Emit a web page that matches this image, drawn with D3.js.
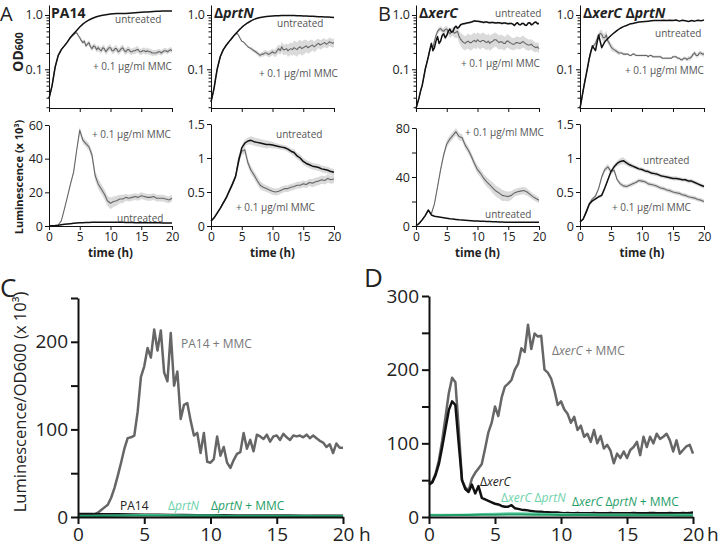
<!DOCTYPE html>
<html><head><meta charset="utf-8">
<script src="https://cdn.jsdelivr.net/npm/d3@7"></script>
<style>body{margin:0;background:#fff} svg{display:block} text{font-family:"Open Sans",sans-serif}</style>
</head><body><script>
// ---------- DATA (each array spans 0..20 h evenly) ----------
const xTicks = [0,5,10,15,20];
const odTickLabels = ["0.1","1.0"];
// A: PA14 and ΔprtN, OD600
const odPA14Untr = [0.029,0.05,0.11,0.18,0.23,0.27,0.32,0.39,0.45,0.52,0.6,0.68,0.75,0.81,0.86,0.91,0.95,0.98,1.0,1.02,1.04,1.05,1.06,1.06,1.07,1.07,1.08,1.09,1.1,1.11,1.12,1.13,1.14,1.15,1.16,1.17,1.17,1.18,1.18,1.18,1.18];
const odPA14MMC = [
 0.029,0.038,0.05,0.075, 0.11,0.14,0.18,0.2, 0.23,0.25,0.27,0.29, 0.32,0.35,0.38,0.41, 0.43,0.46,0.47,0.42,
 0.38,0.34,0.31,0.33, 0.27,0.29,0.31,0.26, 0.24,0.27,0.26,0.23, 0.25,0.23,0.22,0.25, 0.24,0.21,0.23,0.25,
 0.25,0.22,0.22,0.24, 0.24,0.21,0.22,0.24, 0.25,0.22,0.21,0.23, 0.23,0.21,0.21,0.22, 0.22,0.23,0.23,0.21,
 0.21,0.22,0.22,0.21, 0.22,0.21,0.21,0.2, 0.2,0.2,0.2,0.21, 0.21,0.2,0.21,0.22, 0.22,0.21,0.22,0.23, 0.22];
const odPA14MMCsd = [0,0,0,0,0,0,0.03,0.05,0.08,0.1,0.12,0.12,0.14,0.14,0.15,0.15,0.15,0.15,0.15,0.15,0.15,0.15,0.14,0.14,0.14,0.14,0.13,0.13,0.12,0.12,0.12];
const odPrtNUntr = [0.025,0.045,0.1,0.17,0.23,0.28,0.33,0.39,0.45,0.52,0.59,0.66,0.72,0.78,0.83,0.87,0.9,0.92,0.94,0.95,0.96,0.97,0.97,0.98,0.98,0.98,0.98,0.98,0.97,0.97,0.96,0.96,0.95,0.95,0.94,0.93,0.93,0.92,0.92,0.91,0.9];
const odPrtNMMC = [
 0.025,0.033,0.045,0.07, 0.1,0.13,0.17,0.2, 0.23,0.25,0.28,0.3, 0.33,0.35,0.38,0.42, 0.44,0.46,0.42,0.37,
 0.33,0.32,0.3,0.28, 0.26,0.25,0.24,0.23, 0.22,0.21,0.2,0.19, 0.18,0.19,0.19,0.2, 0.2,0.19,0.19,0.2,
 0.21,0.2,0.2,0.22, 0.24,0.22,0.26,0.23, 0.23,0.24,0.22,0.23, 0.24,0.23,0.25,0.24, 0.23,0.25,0.26,0.24,
 0.25,0.26,0.27,0.25, 0.26,0.27,0.28,0.26, 0.27,0.29,0.3,0.28, 0.29,0.3,0.31,0.29, 0.3,0.32,0.31,0.3, 0.31];
const odPrtNMMCsd = [0,0,0,0,0,0,0.04,0.08,0.1,0.12,0.15,0.2,0.25,0.3,0.35,0.35,0.3,0.25,0.22,0.2,0.2];
// A: luminescence (x10^3)
const lumPA14MMC = [0.2,0.2,0.3,0.6,3,10,17.5,25,32,45,57,51,49,47,42,30,25,22,19,15,13.5,14.5,15,16,16,17,16.5,17,17.5,17,18,17.5,17,17,17.5,16.5,16.5,16.5,16,15.5,16.5];
const lumPA14MMCsd = [0,0,0,0,0.3,0.5,0.8,1,1.2,1.5,2,2,2,2,2.5,3,3,3,3,3,3.5,3,3,2.5,2.5,2,2,2,2,2,2,2,2,2,2,2,2,2,2,2,2];
const lumPA14Untr = [0.2,0.2,0.3,0.5,0.8,1.0,1.2,1.4,1.6,1.8,1.9,2.0,2.1,2.15,2.2,2.2,2.2,2.2,2.2,2.2,2.2,2.2,2.2,2.2,2.2,2.1,2.1,2.1,2.0,2.0,2.0,2.0,1.9,1.9,1.9,1.9,1.9,1.8,1.8,1.8,1.8];
const lumPrtNUntr = [0.07,0.12,0.19,0.26,0.34,0.42,0.52,0.62,0.73,0.95,1.15,1.22,1.25,1.26,1.24,1.23,1.22,1.21,1.2,1.2,1.19,1.18,1.17,1.16,1.15,1.13,1.1,1.08,1.03,1.0,0.95,0.92,0.9,0.88,0.87,0.86,0.84,0.83,0.82,0.8,0.79];
const lumPrtNUntrSd = [0,0.01,0.02,0.03,0.03,0.04,0.05,0.06,0.06,0.06,0.05,0.04,0.04,0.04,0.05,0.05,0.05,0.05,0.05,0.05,0.05];
const lumPrtNMMC = [0.07,0.12,0.19,0.26,0.34,0.42,0.52,0.62,0.73,1.0,1.1,1.12,0.93,0.82,0.75,0.67,0.6,0.57,0.55,0.53,0.51,0.5,0.51,0.53,0.55,0.55,0.57,0.58,0.6,0.6,0.62,0.61,0.64,0.63,0.65,0.66,0.68,0.67,0.7,0.68,0.69];
const lumPrtNMMCsd = [0,0.01,0.02,0.03,0.04,0.06,0.06,0.06,0.06,0.05,0.05,0.05,0.05,0.05,0.05,0.05,0.05,0.06,0.06,0.06,0.06];
// B: ΔxerC and ΔxerC ΔprtN, OD600
const odXerCUntr = [
 0.019,0.024,0.03,0.04, 0.05,0.07,0.1,0.13, 0.17,0.23,0.3,0.22, 0.25,0.33,0.4,0.3, 0.33,0.42,0.45,0.38,
 0.42,0.5,0.55,0.48, 0.5,0.58,0.62,0.57, 0.6,0.66,0.68,0.69, 0.7,0.71,0.72,0.73, 0.74,0.76,0.78,0.77,
 0.77,0.76,0.75,0.74, 0.73,0.74,0.74,0.73, 0.72,0.73,0.73,0.72, 0.71,0.72,0.72,0.71, 0.7,0.71,0.71,0.7,
 0.69,0.7,0.7,0.68, 0.64,0.69,0.72,0.67, 0.66,0.7,0.7,0.65, 0.65,0.71,0.72,0.66, 0.68,0.73,0.74,0.69, 0.7];
const odXerCUntrSd = [0,0,0.02,0.05,0.1,0.1,0.08,0.06,0.05,0.05,0.05,0.05,0.05,0.05,0.05,0.05,0.05,0.05,0.05,0.05,0.05];
const odXerCMMC = [
 0.019,0.024,0.03,0.04, 0.05,0.07,0.1,0.13, 0.17,0.22,0.28,0.25, 0.33,0.42,0.5,0.54, 0.56,0.52,0.5,0.54,
 0.55,0.5,0.45,0.48, 0.5,0.46,0.48,0.5, 0.4,0.36,0.33,0.31, 0.3,0.32,0.33,0.31, 0.31,0.33,0.34,0.32,
 0.35,0.33,0.32,0.34, 0.34,0.32,0.31,0.33, 0.3,0.32,0.33,0.35, 0.35,0.33,0.31,0.32, 0.32,0.3,0.3,0.33,
 0.33,0.31,0.3,0.29, 0.29,0.31,0.31,0.3, 0.3,0.32,0.32,0.3, 0.29,0.28,0.28,0.29, 0.27,0.26,0.25,0.26, 0.24];
const odXerCMMCsd = [0,0,0.02,0.08,0.12,0.15,0.2,0.3,0.35,0.38,0.38,0.38,0.38,0.35,0.35,0.32,0.3,0.3,0.28,0.25,0.22];
const odXPUntr = [0.019,0.04,0.08,0.16,0.27,0.22,0.43,0.25,0.32,0.37,0.42,0.47,0.52,0.57,0.61,0.64,0.68,0.7,0.72,0.74,0.75,0.76,0.77,0.78,0.79,0.79,0.79,0.8,0.79,0.8,0.79,0.81,0.77,0.8,0.78,0.76,0.79,0.77,0.8,0.78,0.81];
const odXPMMC = [
 0.019,0.027,0.04,0.06, 0.08,0.11,0.16,0.22, 0.25,0.28,0.3,0.36, 0.4,0.46,0.44,0.38, 0.38,0.43,0.33,0.3,
 0.26,0.24,0.23,0.22, 0.21,0.2,0.2,0.2, 0.19,0.19,0.19,0.19, 0.18,0.18,0.19,0.19, 0.18,0.18,0.18,0.18,
 0.18,0.18,0.18,0.18, 0.17,0.18,0.18,0.17, 0.17,0.17,0.17,0.17, 0.17,0.16,0.16,0.16, 0.16,0.16,0.16,0.16,
 0.17,0.17,0.17,0.16, 0.16,0.15,0.15,0.16, 0.16,0.15,0.16,0.16, 0.17,0.19,0.2,0.18, 0.18,0.2,0.2,0.19, 0.19];
const odXPMMCsd = [0,0,0.05,0.15,0.2,0.15,0.1,0.06,0.05,0.05,0.05,0.05,0.05,0.05,0.05,0.05,0.06,0.08,0.1,0.1,0.1];
// B: luminescence (x10^3)
const lumXerCMMC = [0.3,2,5,8.5,13,10,18,32,46,58,67,71,74,77,73,72,66,62,57,51,46,43,39,36,33.5,31,28.5,27,25,24.5,24,25,27,28,28.5,29,28,26,24,22.5,21];
const lumXerCMMCsd = [0,0,0,0,0.5,0.5,1,1.5,2,2.5,3,3,3,3,3,3,3,3,3,3,3.5,3.5,3.5,4,4,4.5,4.5,4.5,4.5,4,4,3.5,3,3,3,3,3,2.5,2.5,2.5,2.5];
const lumXerCUntr = [0.3,2,5,8.5,13,9,8,7.6,7.2,6.8,6.4,6,5.7,5.4,5.1,4.9,4.7,4.5,4.3,4.1,4,3.9,3.8,3.7,3.6,3.5,3.4,3.3,3.2,3.1,3.1,3,3,3,3,3,3,3,3,3,3];
const lumXPUntr = [0.06,0.1,0.2,0.32,0.37,0.4,0.43,0.45,0.56,0.68,0.8,0.87,0.92,0.95,0.96,0.93,0.9,0.88,0.86,0.84,0.83,0.81,0.8,0.78,0.77,0.76,0.74,0.73,0.72,0.71,0.7,0.7,0.69,0.68,0.68,0.66,0.66,0.64,0.62,0.6,0.58];
const lumXPUntrSd = [0,0.01,0.02,0.02,0.03,0.03,0.04,0.05,0.04,0.03,0.03,0.03,0.03,0.03,0.03,0.03,0.03,0.03,0.03,0.03,0.03];
const lumXPMMC = [0.06,0.1,0.22,0.33,0.4,0.44,0.55,0.72,0.83,0.87,0.8,0.82,0.68,0.62,0.59,0.58,0.6,0.62,0.64,0.67,0.66,0.65,0.62,0.61,0.6,0.58,0.56,0.55,0.53,0.52,0.5,0.49,0.48,0.46,0.45,0.43,0.42,0.41,0.39,0.38,0.36];
const lumXPMMCsd = [0,0.01,0.02,0.03,0.04,0.04,0.03,0.03,0.03,0.03,0.03,0.03,0.03,0.03,0.03,0.03,0.03,0.03,0.03,0.03,0.03];
// C: luminescence / OD600 (x10^3)
const ratioPA14MMC = [
 2,2,1,1, 2,3,5,8, 11,14,22,33, 47,62,78,90, 91,93,120,160,
 172,193,182,214, 190,213,165,155, 210,150,166,112, 128,130,110,93, 96,73,96,63,
 62,66,92,70, 80,62,56,65, 72,74,96,78, 88,75,94,92, 89,94,86,92,
 93,88,95,91, 88,93,92,93, 91,94,90,93, 90,87,85,80, 83,73,84,79, 79];
const ratioPA14 = [3.5,3.3,3,3,2.8,2.6,2.5,2.3,2.2,2,2,1.9,1.8,1.8,1.7,1.6,1.6,1.5,1.5,1.4,1.4];
const ratioPrtN = [1.5,1.5,1.6,1.8,2,2.2,2.2,2,1.8,1.8,1.6,1.5,1.5,1.4,1.4,1.3,1.3,1.3,1.2,1.2,1.2];
const ratioPrtNMMC = [1,1,1.2,1.4,1.6,1.8,1.8,1.6,1.5,1.4,1.3,1.2,1.2,1.1,1.1,1,1,1,1,1,1];
// D
const ratioXerCMMC = [
 46,48,59,77, 104,136,168,189, 183,120,50,40, 36,52,60,66, 72,93,115,128,
 150,137,162,177, 181,186,200,208, 229,224,261,228, 249,245,246,200, 196,188,172,152,
 157,146,140,128, 136,118,124,109, 113,102,118,100, 110,93,98,90, 73,86,80,89,
 80,91,95,102, 84,109,95,109, 100,113,106,109, 113,104,89,104, 86,91,96,98, 86];
const ratioXerC = [
 44,47,57,72, 95,120,145,157, 152,100,50,38, 34,44,32,42, 26,24,22,20,
 18,17,15,14, 14,16,12,11, 10,9.5,9,8, 7.5,7,7,6.5, 6.5,6,6,6,
 5.5,5,5.5,5, 5,5.5,5,5, 5,5,5.5,5, 5,5,5,5.5, 5,5,5,5,
 5,5,5.5,5, 5,5,5,5.5, 5.5,5,5,5, 5,5.5,5,5, 5,5.5,5,5.5, 6];
const ratioXP = [3,3,3.2,3.5,4,4.5,5,5,4.6,4.2,4,3.8,3.6,3.5,3.4,3.3,3.2,3.1,3,3,3];
const ratioXPMMC = [2.5,2.5,2.6,2.8,3,3.2,3.4,3.3,3.2,3,2.8,2.7,2.6,2.5,2.5,2.4,2.4,2.3,2.3,2.2,2.2];

// ---------- DRAWING ----------
const FONT = '"Open Sans", sans-serif';
const GRAY = '#666', BLACK = '#111', BAND = '#dadada';
const LGREEN = '#6dd2ab', DGREEN = '#1f9e68';
const svg = d3.select('body').append('svg').attr('width',720).attr('height',547);

const tOf = (i,n) => i*20/(n-1);
function lineOf(x,y,arr){ return d3.line().x((d,i)=>x(tOf(i,arr.length))).y(d=>y(d))(arr); }
function bandOf(x,y,arr,sd,rel){
  const n = arr.length, s = i => sd[Math.round(i*(sd.length-1)/(n-1))];
  return d3.area().x((d,i)=>x(tOf(i,n)))
    .y0((d,i)=>y(rel ? d/(1+s(i)) : Math.max(0,d-s(i))))
    .y1((d,i)=>y(rel ? d*(1+s(i)) : d+s(i)))(arr);
}
function styleAxis(g, fs, sw){
  g.attr('font-family',FONT).attr('font-size',fs);
  g.selectAll('path.domain').attr('stroke',BLACK).attr('stroke-width',sw);
  g.selectAll('.tick line').attr('stroke',BLACK).attr('stroke-width',sw);
  g.selectAll('.tick text').attr('fill','#222');
}
function richText(parent, x, y, parts, opts){
  const t = parent.append('text').attr('x',x).attr('y',y)
    .attr('font-size',opts.size).attr('fill',opts.fill||'#222')
    .attr('font-weight',opts.bold?'bold':'normal')
    .attr('text-anchor',opts.anchor||'start');
  if (opts.rotate) t.attr('transform',`rotate(-90,${x},${y})`);
  parts.forEach(p=>{
    const s = t.append('tspan').text(p.t);
    if (p.i) s.attr('font-style','italic');
    if (p.size) s.attr('font-size',p.size);
  });
  return t;
}

function smallPanel(cfg){
  const g = svg.append('g');
  const x = d3.scaleLinear().domain([0,20]).range([cfg.x0,cfg.x1]);
  const y = cfg.y;
  cfg.series.forEach(s=>{
    if (s.sd) g.append('path').attr('d',bandOf(x,y,s.data,s.sd,cfg.log)).attr('fill',BAND);
  });
  cfg.series.forEach(s=>{
    g.append('path').attr('d',lineOf(x,y,s.data)).attr('fill','none')
      .attr('stroke',s.color).attr('stroke-width',s.w).attr('stroke-linejoin','round');
  });
  const xa = g.append('g').attr('transform',`translate(0,${cfg.base})`)
    .call(d3.axisBottom(x).tickValues(xTicks).tickSize(4).tickSizeOuter(0).tickPadding(2)
      .tickFormat(cfg.xlabels ? d3.format('d') : ''));
  styleAxis(xa,12,1);
  const ya = g.append('g').attr('transform',`translate(${cfg.x0},0)`)
    .call(d3.axisLeft(y).tickValues(cfg.yTicks).tickSize(4).tickSizeOuter(0).tickPadding(2)
      .tickFormat(cfg.yFmt));
  styleAxis(ya,12.5,1);
  if (cfg.minor){
    const ma = g.append('g').attr('transform',`translate(${cfg.x0},0)`)
      .call(d3.axisLeft(y).tickValues(cfg.minor).tickSize(2.5).tickSizeOuter(0).tickFormat(''));
    styleAxis(ma,10,1);
    ma.select('path.domain').remove();
  }
  if (cfg.xlabels){
    g.append('text').attr('x',(cfg.x0+cfg.x1)/2).attr('y',257).attr('text-anchor','middle')
      .attr('font-size',11.5).attr('font-weight','bold').attr('fill','#222').text('time (h)');
  }
  (cfg.labels||[]).forEach(l=>{
    g.append('text').attr('x',l.x).attr('y',l.y).attr('font-size',10).attr('fill','#555').text(l.t);
  });
  return g;
}

const logY = () => d3.scaleLog().domain([Math.pow(10,-1.713), Math.pow(10,0.184)]).range([108,5]);
const logMinor = [0.02,0.03,0.04,0.05,0.06,0.07,0.08,0.09,0.2,0.3,0.4,0.5,0.6,0.7,0.8,0.9];
const odFmt = d => d===1 ? odTickLabels[1] : odTickLabels[0];
const MMC = '+ 0.1 \u03bcg/ml MMC';

const cols = [
  {x0:49, x1:172},{x0:211, x1:334},{x0:416, x1:539},{x0:580, x1:704}
];
// top OD panels
smallPanel({...cols[0], y:logY(), log:true, base:108, yTicks:[0.1,1], yFmt:odFmt, minor:logMinor,
  series:[{data:odPA14MMC, sd:odPA14MMCsd, color:GRAY, w:1.1},{data:odPA14Untr, color:BLACK, w:1.5}],
  labels:[{t:'untreated',x:115,y:23},{t:MMC,x:93,y:70}]});
smallPanel({...cols[1], y:logY(), log:true, base:108, yTicks:[0.1,1], yFmt:odFmt, minor:logMinor,
  series:[{data:odPrtNMMC, sd:odPrtNMMCsd, color:GRAY, w:1.1},{data:odPrtNUntr, color:BLACK, w:1.5}],
  labels:[{t:'untreated',x:277,y:27},{t:MMC,x:259,y:77}]});
smallPanel({...cols[2], y:logY(), log:true, base:108, yTicks:[0.1,1], yFmt:odFmt, minor:logMinor,
  series:[{data:odXerCMMC, sd:odXerCMMCsd, color:GRAY, w:1.1},{data:odXerCUntr, sd:odXerCUntrSd, color:BLACK, w:1.5}],
  labels:[{t:'untreated',x:495,y:17},{t:MMC,x:461,y:67}]});
smallPanel({...cols[3], y:logY(), log:true, base:108, yTicks:[0.1,1], yFmt:odFmt, minor:logMinor,
  series:[{data:odXPMMC, sd:odXPMMCsd, color:GRAY, w:1.1},{data:odXPUntr, color:BLACK, w:1.5}],
  labels:[{t:'untreated',x:655,y:37},{t:MMC,x:625,y:74}]});
// bottom luminescence panels
smallPanel({...cols[0], y:d3.scaleLinear().domain([0,60]).range([226,125]), base:226, xlabels:true,
  yTicks:[0,20,40,60], yFmt:d3.format('d'),
  series:[{data:lumPA14MMC, sd:lumPA14MMCsd, color:GRAY, w:1.1},{data:lumPA14Untr, color:BLACK, w:1.5}],
  labels:[{t:MMC,x:92,y:138},{t:'untreated',x:117,y:222}]});
smallPanel({...cols[1], y:d3.scaleLinear().domain([0,1.5]).range([226,124]), base:226, xlabels:true,
  yTicks:[0,0.5,1,1.5], yFmt:d=>String(d),
  series:[{data:lumPrtNMMC, sd:lumPrtNMMCsd, color:GRAY, w:1.1},{data:lumPrtNUntr, sd:lumPrtNUntrSd, color:BLACK, w:1.5}],
  labels:[{t:'untreated',x:276,y:138},{t:MMC,x:236,y:211}]});
smallPanel({...cols[2], y:d3.scaleLinear().domain([0,80]).range([226,128]), base:226, xlabels:true,
  yTicks:[0,20,40,60,80], yFmt:d=> (d%40===0 ? String(d) : ''),
  series:[{data:lumXerCMMC, sd:lumXerCMMCsd, color:GRAY, w:1.1},{data:lumXerCUntr, color:BLACK, w:1.5}],
  labels:[{t:MMC,x:465,y:136},{t:'untreated',x:485,y:218}]});
smallPanel({...cols[3], y:d3.scaleLinear().domain([0,1.5]).range([226,124]), base:226, xlabels:true,
  yTicks:[0,0.5,1,1.5], yFmt:d=>String(d),
  series:[{data:lumXPMMC, sd:lumXPMMCsd, color:GRAY, w:1.1},{data:lumXPUntr, sd:lumXPUntrSd, color:BLACK, w:1.5}],
  labels:[{t:'untreated',x:643,y:164},{t:MMC,x:612,y:211}]});

// panel titles
richText(svg,51,18,[{t:'PA14'}],{size:14,bold:true});
richText(svg,214,18,[{t:'\u0394'},{t:'prtN',i:true}],{size:14,bold:true});
richText(svg,419,18,[{t:'\u0394'},{t:'xerC',i:true}],{size:14,bold:true});
richText(svg,583,18,[{t:'\u0394'},{t:'xerC',i:true},{t:' \u0394'},{t:'prtN',i:true}],{size:14,bold:true});
// y labels small panels
richText(svg,23,52,[{t:'OD'},{t:'600',size:10.5}],{size:14,bold:true,anchor:'middle',rotate:true});
richText(svg,23,177,[{t:'Luminescence (x 10\u00b3)'}],{size:11,bold:true,anchor:'middle',rotate:true});
// panel letters
svg.append('text').attr('x',0).attr('y',21).attr('font-size',20).attr('font-family','"Liberation Sans", sans-serif').attr('fill','#222').text('A');
svg.append('text').attr('x',378).attr('y',21).attr('font-size',20).attr('font-family','"Liberation Sans", sans-serif').attr('fill','#222').text('B');
svg.append('text').attr('x',0).attr('y',297).attr('font-size',26).attr('fill','#222').text('C');
svg.append('text').attr('x',364).attr('y',287).attr('font-size',26).attr('fill','#222').text('D');

// big panels
function bigPanel(cfg){
  const g = svg.append('g');
  const x = d3.scaleLinear().domain([0,20]).range([cfg.x0,cfg.x1]);
  const y = d3.scaleLinear().domain([0,cfg.ymax]).range([517,cfg.ytop]);
  cfg.series.forEach(s=>{
    g.append('path').attr('d',lineOf(x,y,s.data)).attr('fill','none')
      .attr('stroke',s.color).attr('stroke-width',s.w).attr('stroke-linejoin','round');
  });
  const xa = g.append('g').attr('transform','translate(0,517)')
    .call(d3.axisBottom(x).tickValues(xTicks).tickSize(7).tickSizeOuter(0).tickPadding(4).tickFormat(d3.format('d')));
  styleAxis(xa,19,2);
  const ya = g.append('g').attr('transform',`translate(${cfg.x0},0)`)
    .call(d3.axisLeft(y).tickValues(cfg.yTicks).tickSize(7).tickSizeOuter(0).tickPadding(3)
      .tickFormat(d=> d%100===0 ? String(d) : ''));
  styleAxis(ya,19,2);
  g.append('text').attr('x',cfg.hx).attr('y',541).attr('font-size',19).attr('font-family',FONT).attr('fill','#222').text('h');
  cfg.labels.forEach(l=>{
    richText(g,l.x,l.y,l.parts,{size:12,fill:l.fill});
  });
}
bigPanel({x0:78, x1:343, ymax:250, ytop:298, yTicks:[0,50,100,150,200,250], hx:359,
  series:[{data:ratioPA14MMC,color:GRAY,w:2.5},{data:ratioPA14,color:BLACK,w:2.5},
          {data:ratioPrtN,color:LGREEN,w:2},{data:ratioPrtNMMC,color:DGREEN,w:2}],
  labels:[{parts:[{t:'PA14 + MMC'}],x:181,y:348,fill:'#777'},
          {parts:[{t:'PA14'}],x:120,y:510,fill:'#222'},
          {parts:[{t:'\u0394'},{t:'prtN',i:true}],x:168,y:510,fill:LGREEN},
          {parts:[{t:'\u0394'},{t:'prtN',i:true},{t:' + MMC'}],x:211,y:510,fill:DGREEN}]});
bigPanel({x0:429, x1:693, ymax:300, ytop:296, yTicks:[0,50,100,150,200,250,300], hx:707,
  series:[{data:ratioXerCMMC,color:GRAY,w:2.5},{data:ratioXerC,color:BLACK,w:2.5},
          {data:ratioXP,color:LGREEN,w:2},{data:ratioXPMMC,color:DGREEN,w:2}],
  labels:[{parts:[{t:'\u0394'},{t:'xerC',i:true},{t:' + MMC'}],x:552,y:355,fill:'#777'},
          {parts:[{t:'\u0394'},{t:'xerC',i:true}],x:480,y:486,fill:'#222'},
          {parts:[{t:'\u0394'},{t:'xerC',i:true},{t:' \u0394'},{t:'prtN',i:true}],x:501,y:502,fill:LGREEN},
          {parts:[{t:'\u0394'},{t:'xerC',i:true},{t:' \u0394'},{t:'prtN',i:true},{t:' + MMC'}],x:572,y:506,fill:DGREEN}]});
richText(svg,26,402,[{t:'Luminescence/OD600 (x 10\u00b3)'}],{size:16.5,anchor:'middle',rotate:true});
</script></body></html>
